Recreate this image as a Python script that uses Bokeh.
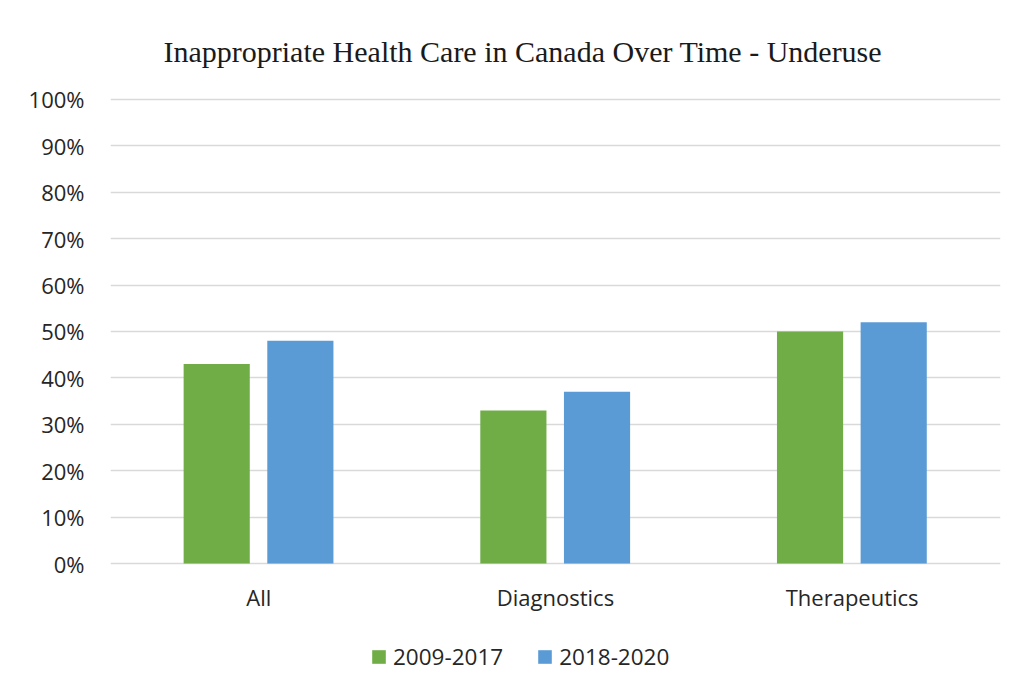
from bokeh.plotting import figure
from bokeh.models import ColumnDataSource, FactorRange, Legend, LegendItem, PrintfTickFormatter, Range1d
from bokeh.transform import dodge
from bokeh.embed import file_html
from bokeh.resources import INLINE

categories = ["All", "Diagnostics", "Therapeutics"]
series_names = ["2009-2017", "2018-2020"]
values_2009_2017 = [43, 33, 50]
values_2018_2020 = [48, 37, 52]
y_ticks = [0, 10, 20, 30, 40, 50, 60, 70, 80, 90, 100]

colors = ["#70AD47", "#5B9BD5"]

source = ColumnDataSource(dict(cat=categories, a=values_2009_2017, b=values_2018_2020))

# frame spans from just above the 100% line (y=97) to y=690; 0% sits at y=563
p = figure(
    x_range=FactorRange(*categories, range_padding=0),
    y_range=Range1d(-27.37, 100.43),
    width=1016, height=694,
    output_backend="svg", toolbar_location=None,
    min_border_left=110, min_border_right=16, min_border_top=97, min_border_bottom=4,
)

r1 = p.vbar(x=dodge("cat", -0.142, range=p.x_range), top="a", width=0.223, source=source,
            fill_color=colors[0], line_color=None)
r2 = p.vbar(x=dodge("cat", 0.140, range=p.x_range), top="b", width=0.223, source=source,
            fill_color=colors[1], line_color=None)

p.title.text = "Inappropriate Health Care in Canada Over Time - Underuse"
p.title.text_font = "Liberation Serif"
p.title.text_font_size = "30px"
p.title.text_font_style = "normal"
p.title.text_color = "#1a1a1a"
p.title.align = "left"
p.title.offset = 53
p.title.standoff = 60

p.yaxis.ticker = y_ticks
p.yaxis.formatter = PrintfTickFormatter(format="%d%%")
p.xaxis.fixed_location = 0
for ax in (p.xaxis[0], p.yaxis[0]):
    ax.axis_line_color = None
    ax.major_tick_line_color = None
    ax.minor_tick_line_color = None
    ax.major_tick_out = 0
    ax.major_tick_in = 0
    ax.major_label_text_font = "Open Sans"
    ax.major_label_text_font_size = "22px"
    ax.major_label_text_color = "#262626"
p.yaxis.major_label_standoff = 26
p.xaxis.major_label_standoff = 18

p.xgrid.grid_line_color = None
p.ygrid.grid_line_color = "#d9d9d9"
p.ygrid.grid_line_width = 1.5
p.outline_line_color = None

legend = Legend(
    items=[LegendItem(label=series_names[0], renderers=[r1]),
           LegendItem(label=series_names[1], renderers=[r2])],
    orientation="horizontal",
    location=(260, 18),
    label_text_font="Open Sans",
    label_text_font_size="22.5px",
    label_text_color="#262626",
    glyph_width=17, glyph_height=17,
    label_standoff=6, spacing=33,
    padding=0, margin=0,
    border_line_color=None, background_fill_alpha=0,
)
p.add_layout(legend, "center")

open("out.html", "w").write(file_html(p, INLINE))
